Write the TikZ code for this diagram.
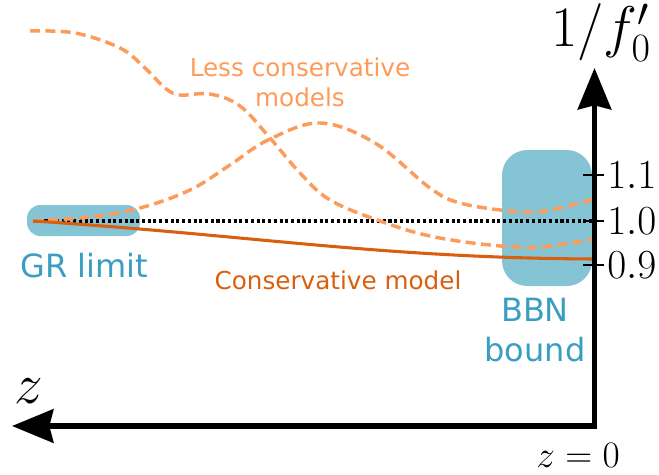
\RequirePackage{fix-cm}
\documentclass[tikz,border=0pt]{standalone}
\usepackage{fontspec}
\newfontfamily\labelfont{DejaVu Sans}
\usetikzlibrary{arrows.meta}

\definecolor{boxblue}{HTML}{85C4D5}
\definecolor{textblue}{HTML}{3A9EC0}
\definecolor{consorange}{HTML}{D95F0E}
\definecolor{lessorange}{HTML}{FD9B5A}

\tikzset{
  region/.style={fill=boxblue, draw=none, inner sep=0pt},
  axisline/.style={line width=4.2pt, line join=miter,
    {Stealth[length=31pt, width=25pt, inset=3pt]}-{Stealth[length=31pt, width=25pt, inset=3pt]}},
  tickmark/.style={line width=2.2pt},
  ticklabel/.style={anchor=west, inner sep=0pt, font=\fontsize{31}{31}\selectfont},
  biglabel/.style={inner sep=0pt, font=\fontsize{43}{43}\selectfont},
  bluelabel/.style={inner sep=0pt, text=textblue, align=center,
    font=\labelfont\fontsize{24}{30}\selectfont},
  orangelabel/.style={inner sep=0pt, align=center,
    font=\labelfont\fontsize{18.5}{22.5}\selectfont},
  reference/.style={line width=2.5pt, dash pattern=on 2.3pt off 2pt},
  lessmodel/.style={lessorange, line width=2.6pt, dash pattern=on 7.5pt off 4pt},
  consmodel/.style={consorange, line width=2.3pt},
}

\begin{document}
\begin{tikzpicture}[x=0.75pt, y=-0.75pt]
\useasboundingbox (0,0) rectangle (659,474);

% shaded regions
\node[region, rounded corners=10pt, minimum width=84.75pt, minimum height=23.25pt]
  (gr) at (83.5,220.5) {};
\node[region, rounded corners=19pt, minimum width=67.5pt, minimum height=102pt]
  (bbn) at (547,218) {};

% axes
\coordinate (origin) at (594.5,426);
\coordinate (ytip) at (594.5,68);
\coordinate (xtip) at (12,426);
\coordinate (start) at (33,221);

% GR reference line
\draw[reference] (start) -- (594.5,221);

% less conservative models
\draw[lessmodel] plot[smooth, tension=0.6] coordinates {
  (33,221) (90,217) (140,208) (190,190) (230,165) (268,140) (320,123)
  (375,143) (430,188) (460,203) (510,211) (545,211) (594,199)};
\draw[lessmodel] plot[smooth, tension=0.6] coordinates {
  (30,31) (75,33) (120,48) (145,68) (165,88) (180,95) (210,94) (240,106)
  (270,138) (300,173) (330,200) (380,221) (430,236) (490,245) (540,247) (594,239)};

% conservative model
\draw[consmodel] (start) .. controls (250,235) and (380,258) .. (594,259);

\draw[axisline] (xtip) -- (origin) -- (ytip);

% ticks
\foreach \yy/\lab/\nm in {175/1.1/ta, 221/1.0/tb, 265/0.9/tc} {
  \draw[tickmark] (583,\yy) -- (604,\yy);
  \node[ticklabel] (\nm) at (607,\yy) {$\lab$};
}

% labels
\node[biglabel, anchor=base west] (ylab) at (551,47) {$1/f'_0$};
\node[biglabel, anchor=base] (xlab) at (28.5,403) {$z$};
\node[inner sep=0pt, anchor=base, font=\fontsize{28}{28}\selectfont] (zero) at (578,467) {$z=0$};
\node[bluelabel, anchor=base] (grlab) at (84,277) {GR limit};
\node[bluelabel] (bbnlab) at (535,330) {BBN\\bound};
\node[orangelabel, text=consorange, anchor=base] (conslab) at (338,289) {Conservative model};
\node[orangelabel, text=lessorange] (lesslab) at (300,82.5) {Less conservative\\models};
\end{tikzpicture}
\end{document}
